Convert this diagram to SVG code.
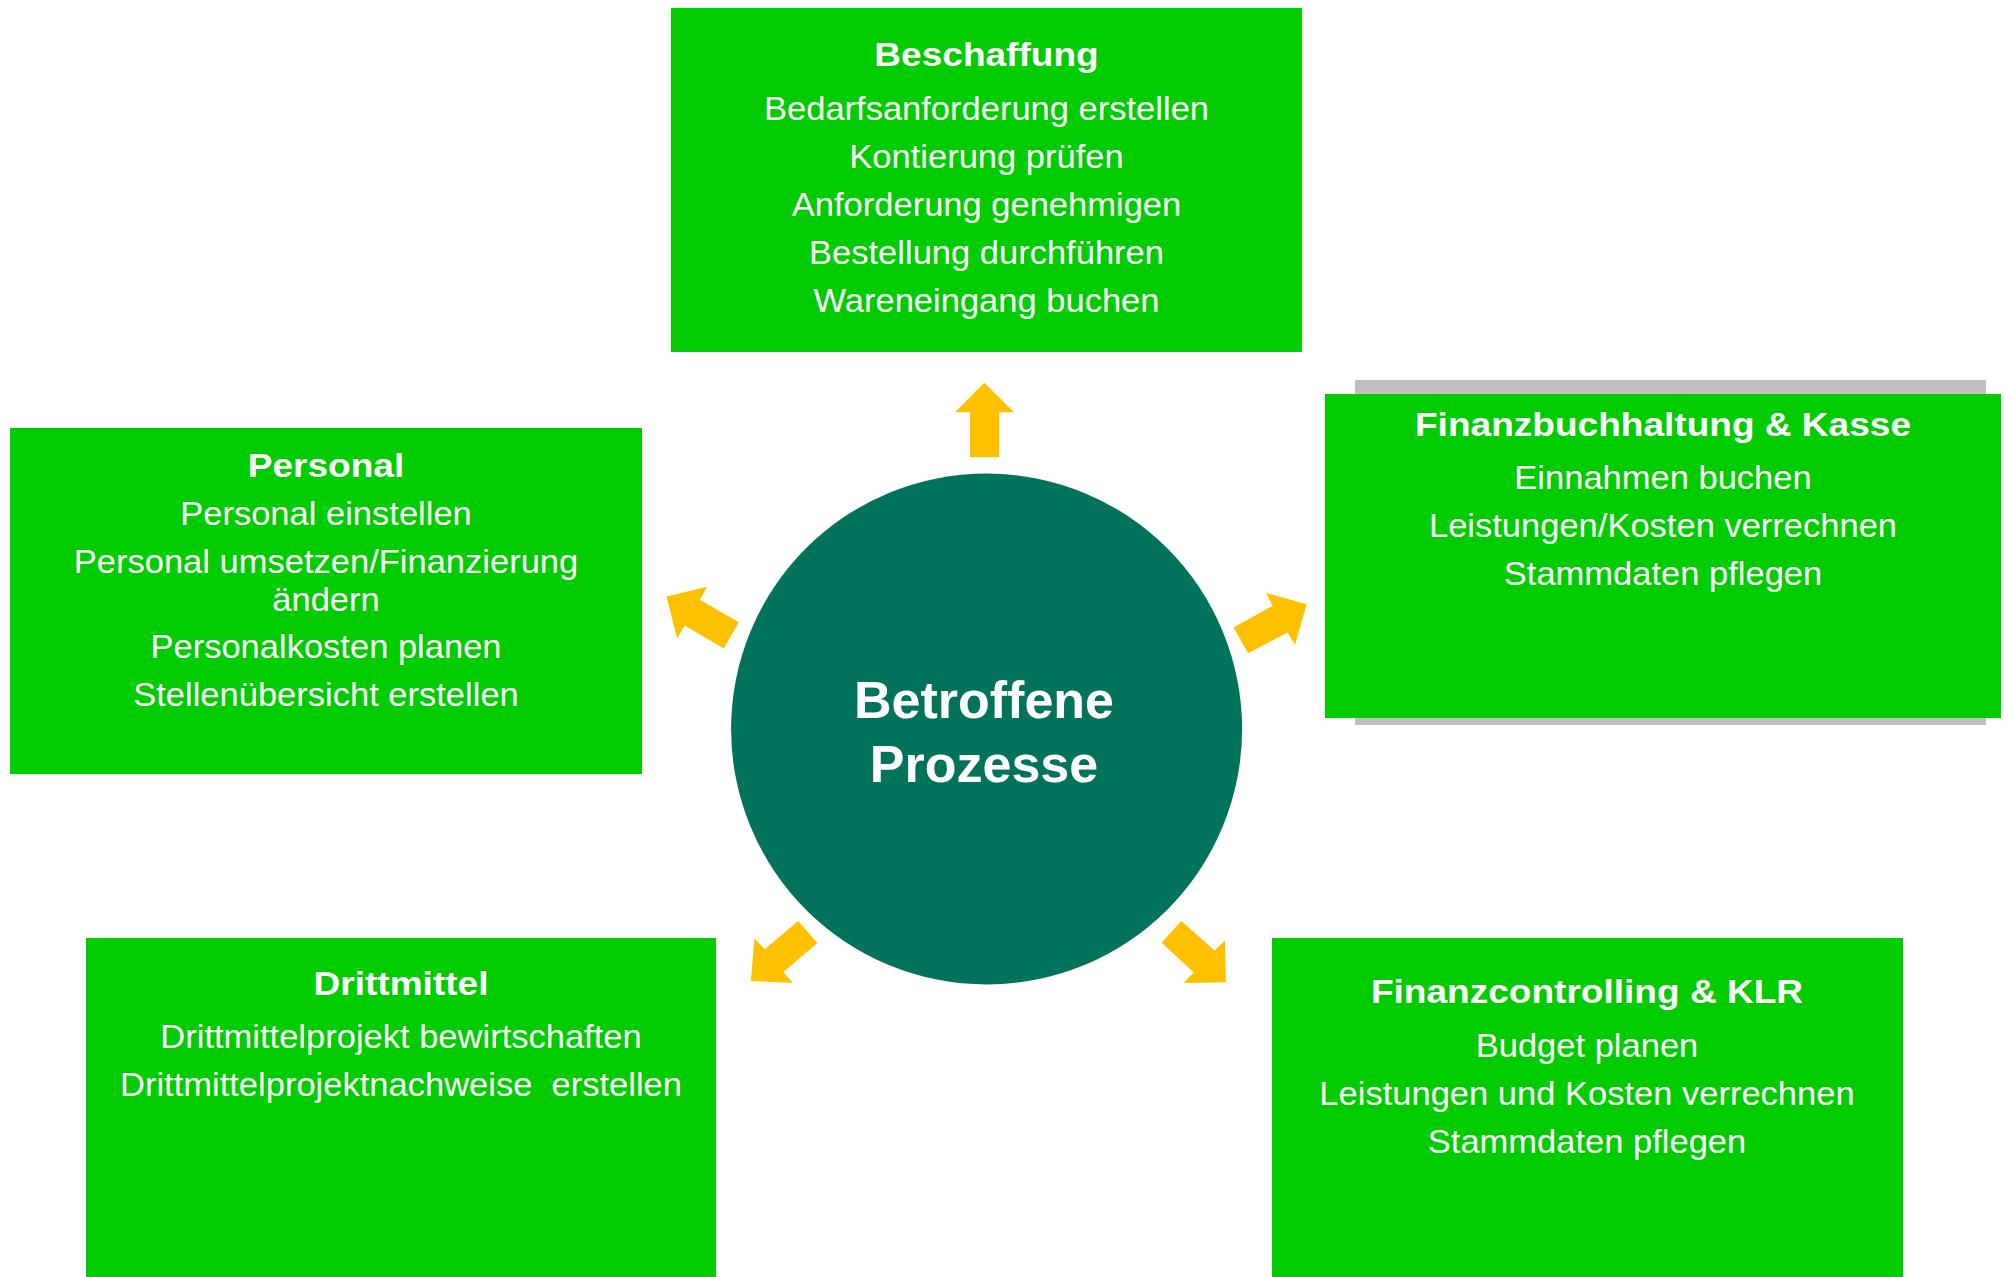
<svg xmlns="http://www.w3.org/2000/svg" width="2005" height="1277" viewBox="0 0 2005 1277">
<style>
.box{fill:#00CC00}
.shadow{fill:#BFBFBF}
.arrow{fill:#FFC000}
.hub{fill:#00735A}
text{font-family:"Liberation Sans",Arial,Helvetica,sans-serif;fill:#FFFFFF;text-anchor:middle}
.tt{font-size:34px;font-weight:bold}
.bt{font-size:32.5px}
.ct{font-size:52px;font-weight:bold}
</style>
<rect x="0" y="0" width="2005" height="1277" fill="#FFFFFF"/>

<g id="connectors">
  <polygon class="arrow" points="984.3,382.7 1014,412.3 999.3,412.3 999.3,457.3 970,457.3 970,412.3 955,412.3"/>
  <polygon class="arrow" points="666.5,596.5 707.1,586.7 700,599.8 738.8,622.2 723.7,648.4 684.8,625.5 677.2,638.6"/>
  <polygon class="arrow" points="1306.7,604.3 1295.1,644.7 1287.5,632.4 1248.2,653.3 1233.5,627.6 1272.8,605.9 1266,592.9"/>
  <polygon class="arrow" points="798.2,921 817.4,943 783.5,972 792.9,983 750.9,981 754.5,938.6 764.7,949.2"/>
  <polygon class="arrow" points="1181.3,921 1214.7,950.4 1225,940.6 1225.9,982.2 1183.5,983 1193.8,972.4 1161.6,942.7"/>
</g>

<g id="hub">
  <circle class="hub" cx="986.6" cy="729" r="255.5"/>
  <text class="ct" x="984" y="717.5">Betroffene</text>
  <text class="ct" x="984" y="781.5">Prozesse</text>
</g>

<g id="beschaffung">
  <rect class="box" x="671" y="8" width="631" height="344"/>
  <g transform="translate(986.5 0) scale(1.09 1)">
    <text class="tt" x="0" y="66.5">Beschaffung</text>
  </g>
  <g transform="translate(986.5 0) scale(1.062 1)">
    <text class="bt" x="0" y="120.5">Bedarfsanforderung erstellen</text>
    <text class="bt" x="0" y="168.3">Kontierung prüfen</text>
    <text class="bt" x="0" y="216">Anforderung genehmigen</text>
    <text class="bt" x="0" y="264.5">Bestellung durchführen</text>
    <text class="bt" x="0" y="312.5">Wareneingang buchen</text>
  </g>
</g>

<g id="personal">
  <rect class="box" x="10" y="428" width="632" height="346"/>
  <g transform="translate(326 0) scale(1.09 1)">
    <text class="tt" x="0" y="476.7">Personal</text>
  </g>
  <g transform="translate(326 0) scale(1.062 1)">
    <text class="bt" x="0" y="525">Personal einstellen</text>
    <text class="bt" x="0" y="573.3">Personal umsetzen/Finanzierung</text>
    <text class="bt" x="0" y="610.7">ändern</text>
    <text class="bt" x="0" y="658.3">Personalkosten planen</text>
    <text class="bt" x="0" y="706">Stellenübersicht erstellen</text>
  </g>
</g>

<g id="finanzbuchhaltung">
  <rect class="shadow" x="1355" y="380" width="631" height="345"/>
  <rect class="box" x="1325" y="394" width="676" height="324"/>
  <g transform="translate(1663 0) scale(1.09 1)">
    <text class="tt" x="0" y="435.7">Finanzbuchhaltung &amp; Kasse</text>
  </g>
  <g transform="translate(1663 0) scale(1.062 1)">
    <text class="bt" x="0" y="489.3">Einnahmen buchen</text>
    <text class="bt" x="0" y="536.7">Leistungen/Kosten verrechnen</text>
    <text class="bt" x="0" y="585">Stammdaten pflegen</text>
  </g>
</g>

<g id="drittmittel">
  <rect class="box" x="86" y="938" width="630" height="339"/>
  <g transform="translate(401 0) scale(1.09 1)">
    <text class="tt" x="0" y="995">Drittmittel</text>
  </g>
  <g transform="translate(401 0) scale(1.062 1)">
    <text class="bt" x="0" y="1048.3">Drittmittelprojekt bewirtschaften</text>
    <text class="bt" x="0" y="1095.7" xml:space="preserve">Drittmittelprojektnachweise  erstellen</text>
  </g>
</g>

<g id="finanzcontrolling">
  <rect class="box" x="1272" y="938" width="631" height="339"/>
  <g transform="translate(1587 0) scale(1.09 1)">
    <text class="tt" x="0" y="1003.3">Finanzcontrolling &amp; KLR</text>
  </g>
  <g transform="translate(1587 0) scale(1.062 1)">
    <text class="bt" x="0" y="1057.3">Budget planen</text>
    <text class="bt" x="0" y="1105">Leistungen und Kosten verrechnen</text>
    <text class="bt" x="0" y="1152.7">Stammdaten pflegen</text>
  </g>
</g>
</svg>
